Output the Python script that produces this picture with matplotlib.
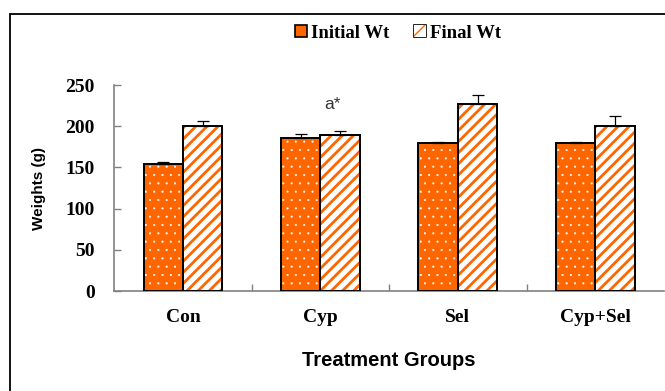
import matplotlib
matplotlib.use("Agg")
import matplotlib.pyplot as plt
import numpy as np
from matplotlib.patches import Patch, Rectangle

groups = ["Con", "Cyp", "Sel", "Cyp+Sel"]
initial_wt = [154, 186, 180, 180]
initial_err = [3, 4, 1, 1]
final_wt = [200, 189, 227, 200]
final_err = [6, 5, 11, 12]
y_ticks = [0, 50, 100, 150, 200, 250]
annotation = "a*"

orange = "#FF6600"
axis_grey = "#808080"
serif = "Liberation Serif"
sans = "Liberation Sans"

fig = plt.figure(figsize=(6.65, 3.91), dpi=100)
ax = fig.add_axes([114.3 / 665, 100 / 391, 549.7 / 665, 206 / 391])

x = np.arange(len(groups))
w = 0.287

# initial weights: orange with small white dots
with plt.rc_context({"hatch.linewidth": 0.3}):
    ax.bar(x - w / 2, initial_wt, w, color=orange, edgecolor="white",
           hatch="..", linewidth=0, zorder=2)
# final weights: white with orange diagonal stripes
with plt.rc_context({"hatch.linewidth": 2.0}):
    ax.bar(x + w / 2, final_wt, w, color="white", edgecolor=orange,
           hatch="///", linewidth=0, zorder=2)
# black outlines
ax.bar(x - w / 2, initial_wt, w, fill=False, edgecolor="black",
       linewidth=1.4, zorder=3)
ax.bar(x + w / 2, final_wt, w, fill=False, edgecolor="black",
       linewidth=1.4, zorder=3)

# upper error bars
ax.errorbar(x - w / 2, initial_wt, yerr=[np.zeros(4), initial_err], fmt="none",
            ecolor="black", elinewidth=0.9, capsize=4, capthick=0.9, zorder=4)
ax.errorbar(x + w / 2, final_wt, yerr=[np.zeros(4), final_err], fmt="none",
            ecolor="black", elinewidth=0.9, capsize=4, capthick=0.9, zorder=4)

ax.text(x[1] + 0.09, 226, annotation, ha="center", va="center",
        fontsize=12.5, family=sans, color="#333333")

ax.set_xlim(-0.5, len(groups) - 0.5)
ax.set_ylim(0, 250)
ax.set_yticks(y_ticks)
ax.set_yticklabels([str(t) for t in y_ticks], family=serif,
                   fontweight="bold", fontsize=14)
ax.set_xticks(x)
ax.set_xticklabels(groups, family=serif, fontweight="bold", fontsize=14)
ax.tick_params(axis="x", length=0, pad=13)
ax.tick_params(axis="y", direction="in", length=5, color=axis_grey,
               width=1, pad=14)
# category separators on the x axis
ax.set_xticks(np.arange(len(groups) - 1) + 0.5, minor=True)
ax.tick_params(axis="x", which="minor", direction="in", length=5,
               color=axis_grey, width=1)

for side in ("top", "right"):
    ax.spines[side].set_visible(False)
for side in ("left", "bottom"):
    ax.spines[side].set_color(axis_grey)
    ax.spines[side].set_linewidth(1.2)

ax.set_ylabel("Weights (g)", family=sans, fontweight="bold", fontsize=11,
              labelpad=14)
ax.set_xlabel("Treatment Groups", family=sans, fontweight="bold",
              fontsize=14.5, labelpad=18)

with plt.rc_context({"hatch.linewidth": 1.5}):
    handles = [
        Patch(facecolor=orange, edgecolor="black", linewidth=1.2),
        Patch(facecolor="white", edgecolor=orange, hatch="//", linewidth=0),
    ]
leg = fig.legend(handles, ["Initial Wt", "Final Wt"], ncol=2, frameon=False,
                 loc="center", bbox_to_anchor=(398 / 665, 1 - 33 / 391),
                 prop={"family": serif, "weight": "bold", "size": 13.5},
                 handlelength=0.65, handleheight=0.65, handletextpad=0.2,
                 columnspacing=1.3)
# black border on the striped legend key
fin_key = leg.legend_handles[1]
bb = Rectangle((0, 0), 1, 1, fill=False, edgecolor="black", linewidth=1.2)
leg.legend_handles[1].set_linewidth(0)

# outer frame
fig.add_artist(Rectangle((9.5 / 665, -0.1), 1.2, 1 - 13.5 / 391 + 0.1,
                         transform=fig.transFigure, fill=False,
                         edgecolor="black", linewidth=1.3))

fig.canvas.draw()
# outline the striped key with a black square drawn in display space
r = fin_key.get_window_extent(fig.canvas.get_renderer())
fig.add_artist(Rectangle((r.x0, r.y0), r.width, r.height, transform=None,
                         fill=False, edgecolor="black", linewidth=1.2))

fig.savefig("out.png", dpi=100)
